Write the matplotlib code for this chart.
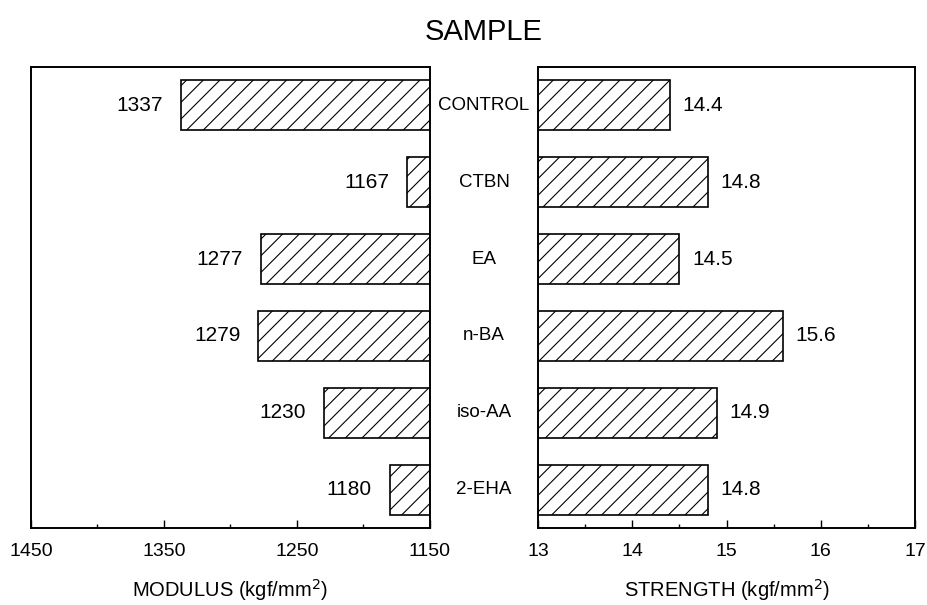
import matplotlib
matplotlib.use('Agg')
from matplotlib import pyplot as plt
import matplotlib.transforms as mtransforms
import numpy as np

samples = ['CONTROL', 'CTBN', 'EA', 'n-BA', 'iso-AA', '2-EHA']
modulus = [1337, 1167, 1277, 1279, 1230, 1180]
strength = [14.4, 14.8, 14.5, 15.6, 14.9, 14.8]
modulus_ticks = [1450, 1350, 1250, 1150]
strength_ticks = [13, 14, 15, 16, 17]

plt.rcParams['font.family'] = ['Liberation Sans', 'DejaVu Sans']
plt.rcParams['hatch.linewidth'] = 0.8

fig = plt.figure(figsize=(9.27, 6.05), dpi=100)
ax1 = fig.add_axes([0.0334, 0.1273, 0.4304, 0.762])
ax2 = fig.add_axes([0.5804, 0.1273, 0.4067, 0.762])

ypos = np.arange(len(samples))[::-1]

def style(ax):
	for s in ax.spines.values():
		s.set_linewidth(1.4)
	ax.set_yticks([])
	ax.set_ylim(-0.5, 5.5)
	ax.tick_params(axis='x', which='major', direction='in', length=6, width=1, labelsize=14, pad=11)
	ax.tick_params(axis='x', which='minor', direction='in', length=3, width=1)

# left: modulus, axis reversed
ax1.barh(ypos, np.array(modulus) - 1150, left=1150, height=0.65,
	color='white', edgecolor='black', hatch='//', linewidth=1.2)
ax1.set_xlim(1450, 1150)
ax1.set_xticks(modulus_ticks)
ax1.set_xticks([1400, 1300, 1200], minor=True)
style(ax1)
for v, y in zip(modulus, ypos):
	ax1.annotate(str(v), xy=(v, y), xytext=(-13, 0), textcoords='offset points',
		ha='right', va='center', fontsize=15)
ax1.set_xlabel('MODULUS (kgf/mm$^2$)', fontsize=14.5, labelpad=12)

# right: strength
ax2.barh(ypos, np.array(strength) - 13, left=13, height=0.65,
	color='white', edgecolor='black', hatch='//', linewidth=1.2)
ax2.set_xlim(13, 17)
ax2.set_xticks(strength_ticks)
ax2.set_xticks([13.5, 14.5, 15.5, 16.5], minor=True)
style(ax2)
for v, y in zip(strength, ypos):
	ax2.annotate('%.1f' % v, xy=(v, y), xytext=(9, 0), textcoords='offset points',
		ha='left', va='center', fontsize=15)
ax2.set_xlabel('STRENGTH (kgf/mm$^2$)', fontsize=14.5, labelpad=12)

# category names between the two panels
trans = mtransforms.blended_transform_factory(fig.transFigure, ax2.transData)
for name, y in zip(samples, ypos):
	ax2.text(484 / 927, y, name, transform=trans, ha='center', va='center', fontsize=13.5)

fig.text(484 / 927, 0.947, 'SAMPLE', ha='center', va='center', fontsize=21)

plt.savefig('out.png', dpi=100)
plt.close()
